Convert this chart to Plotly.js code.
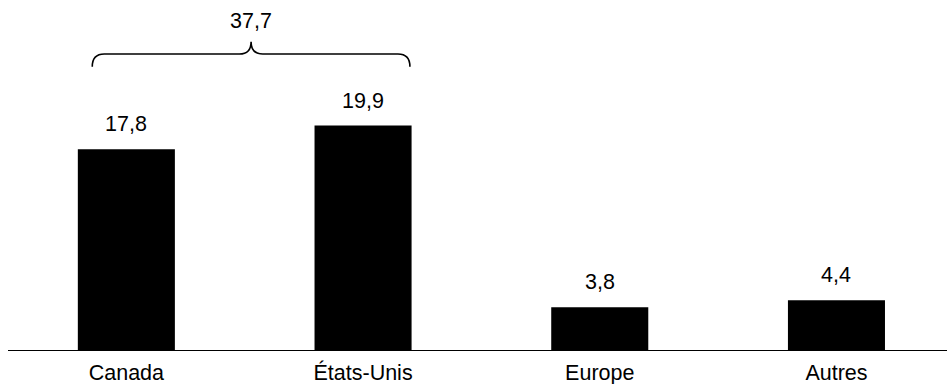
<!DOCTYPE html>
<html>
<head>
<meta charset="utf-8">
<script src="https://cdn.plot.ly/plotly-3.0.1.min.js"></script>
<style>html,body{margin:0;padding:0;background:#fff;}#chart{width:947px;height:384px;}</style>
</head>
<body>
<div id="chart"></div>
<script>
const categories = ["Canada", "États-Unis", "Europe", "Autres"];
const values = [17.8, 19.9, 3.8, 4.4];
const groupedIdx = [0, 1]; // Canada + États-Unis grouped by the brace

const fmt = v => v.toFixed(1).replace('.', ',');
const groupTotal = groupedIdx.reduce((s, i) => s + values[i], 0);
const groupTop = Math.max(...groupedIdx.map(i => values[i]));

// brace geometry (in axis units, relative to grouped categories)
const bx0 = groupedIdx[0] - 0.144, bx1 = groupedIdx[groupedIdx.length - 1] + 0.198;
const bmid = (bx0 + bx1) / 2;
const yEnd = groupTop + 5.22, yLine = groupTop + 6.34, yTip = groupTop + 7.43;
const rx = 0.0507, tx = 0.0495;
const bracePath = `M ${bx0} ${yEnd} Q ${bx0} ${yLine} ${bx0 + rx} ${yLine} L ${bmid - tx} ${yLine} Q ${bmid} ${yLine} ${bmid} ${yTip} Q ${bmid} ${yLine} ${bmid + tx} ${yLine} L ${bx1 - rx} ${yLine} Q ${bx1} ${yLine} ${bx1} ${yEnd}`;

const font = {family: "Liberation Sans, Arial, sans-serif", size: 21.5, color: "#000"};

const annotations = categories.map((c, i) => ({
  x: i, y: values[i], xref: 'x', yref: 'y', text: fmt(values[i]),
  showarrow: false, yanchor: 'bottom', yshift: 11, font: font
}));
annotations.push({
  x: bmid, y: yTip, xref: 'x', yref: 'y', text: fmt(groupTotal),
  showarrow: false, yanchor: 'bottom', yshift: 7, font: font
});

const data = [{
  type: 'bar', x: [0, 1, 2, 3], y: values, width: 0.41,
  marker: {color: '#000', line: {width: 0}},
  hoverinfo: 'none'
}];

const layout = {
  width: 947, height: 384,
  margin: {l: 8, r: 0, t: 0, b: 34},
  paper_bgcolor: '#fff', plot_bgcolor: '#fff',
  font: font, showlegend: false,
  xaxis: {
    range: [-0.5, 3.467], tickmode: 'array', tickvals: [0, 1, 2, 3], ticktext: categories,
    showline: true, linecolor: '#000', linewidth: 1, showgrid: false, zeroline: false,
    ticks: '', ticklabelstandoff: 3, tickfont: font, fixedrange: true
  },
  yaxis: {range: [0, 31.03], visible: false, showgrid: false, zeroline: false, fixedrange: true},
  shapes: [{type: 'path', xref: 'x', yref: 'y', path: bracePath, line: {color: '#000', width: 1.6}}],
  annotations: annotations
};

Plotly.newPlot('chart', data, layout, {displayModeBar: false, staticPlot: true});
</script>
</body>
</html>
